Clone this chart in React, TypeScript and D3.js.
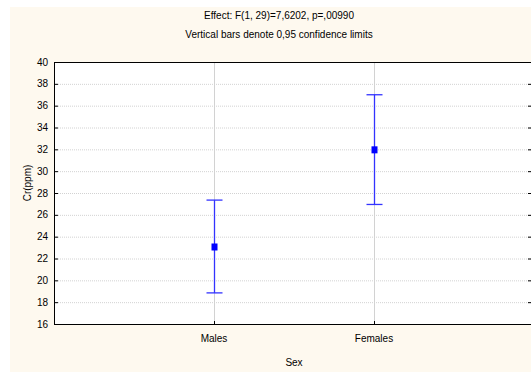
import React, { useEffect, useRef } from 'react'
import * as d3 from 'd3'

// values
const groups = ['Males', 'Females']
const means = [23.1, 32.0]
const lowerLimits = [18.85, 26.95]
const upperLimits = [27.35, 37.0]
const yTicks = [16, 18, 20, 22, 24, 26, 28, 30, 32, 34, 36, 38, 40]
const titleLines = ['Effect: F(1, 29)=7,6202, p=,00990', 'Vertical bars denote 0,95 confidence limits']

const W = 531
const H = 372
const FONT = "'Liberation Sans', Arial, sans-serif"

function App() {
    const node = useRef<SVGSVGElement | null>(null)

    useEffect(() => {
        const svg = d3.select(node.current)
        svg.selectAll('*').remove()

        const left = 54, right = 534, top = 62, bottom = 324

        // cream page
        svg.append('rect')
            .attr('x', 10).attr('y', 7)
            .attr('width', W - 10).attr('height', H - 7)
            .attr('fill', '#fef9ef')

        svg.append('rect')
            .attr('x', left).attr('y', top)
            .attr('width', right - left).attr('height', bottom - top)
            .attr('fill', '#fff')

        const y = d3.scaleLinear().domain([16, 40]).range([bottom, top])
        // categories sit at 1 and 2 on a 0..3 axis
        const x = d3.scaleLinear().domain([0, groups.length + 1]).range([left, right])

        const grid = svg.append('g')
        grid.selectAll('line.h').data(yTicks.slice(1, -1)).enter().append('line')
            .attr('x1', left).attr('x2', right)
            .attr('y1', d => y(d) + 0.5).attr('y2', d => y(d) + 0.5)
            .attr('stroke', '#d2d2d2')
            .attr('stroke-dasharray', '1,1')
        grid.selectAll('line.v').data(groups).enter().append('line')
            .attr('x1', (d, i) => x(i + 1) + 0.5).attr('x2', (d, i) => x(i + 1) + 0.5)
            .attr('y1', top).attr('y2', bottom)
            .attr('stroke', '#d2d2d2')

        // ticks inside the frame
        const ticks = svg.append('g').attr('stroke', '#000')
        ticks.selectAll('line.l').data(yTicks).enter().append('line')
            .attr('x1', left).attr('x2', left + 4)
            .attr('y1', d => y(d) + 0.5).attr('y2', d => y(d) + 0.5)
        ticks.selectAll('line.r').data(yTicks).enter().append('line')
            .attr('x1', W - 3).attr('x2', W)
            .attr('y1', d => y(d) + 0.5).attr('y2', d => y(d) + 0.5)
        ticks.selectAll('line.b').data(groups).enter().append('line')
            .attr('x1', (d, i) => x(i + 1) + 0.5).attr('x2', (d, i) => x(i + 1) + 0.5)
            .attr('y1', bottom - 3).attr('y2', bottom)

        svg.append('rect')
            .attr('x', left + 0.5).attr('y', top + 0.5)
            .attr('width', right - left).attr('height', bottom - top)
            .attr('fill', 'none')
            .attr('stroke', '#000')

        svg.append('g').selectAll('text').data(yTicks).enter().append('text')
            .attr('x', 48).attr('y', d => y(d))
            .attr('dy', '0.35em')
            .attr('text-anchor', 'end')
            .attr('font-family', FONT).attr('font-size', 10)
            .attr('fill', '#000')
            .text(d => d)

        svg.append('g').selectAll('text').data(groups).enter().append('text')
            .attr('x', (d, i) => x(i + 1)).attr('y', 342)
            .attr('text-anchor', 'middle')
            .attr('font-family', FONT).attr('font-size', 10)
            .text(d => d)

        svg.append('text')
            .attr('x', (left + right) / 2).attr('y', 366)
            .attr('text-anchor', 'middle')
            .attr('font-family', FONT).attr('font-size', 10)
            .text('Sex')

        svg.append('text')
            .attr('transform', 'translate(31,183) rotate(-90)')
            .attr('text-anchor', 'middle')
            .attr('font-family', FONT).attr('font-size', 10)
            .text('Cr(ppm)')

        svg.append('g').selectAll('text').data(titleLines).enter().append('text')
            .attr('x', 279).attr('y', (d, i) => 19 + i * 19)
            .attr('text-anchor', 'middle')
            .attr('font-family', FONT).attr('font-size', 10)
            .text(d => d)

        // error bars + means
        const bars = svg.append('g').attr('stroke', '#3333ff').attr('stroke-width', 1.3)
        groups.forEach((g, i) => {
            const cx = x(i + 1) + 0.5
            bars.append('line')
                .attr('x1', cx).attr('x2', cx)
                .attr('y1', y(upperLimits[i])).attr('y2', y(lowerLimits[i]))
            ;[upperLimits[i], lowerLimits[i]].forEach(v => {
                bars.append('line')
                    .attr('x1', cx - 8).attr('x2', cx + 8)
                    .attr('y1', y(v)).attr('y2', y(v))
            })
            svg.append('rect')
                .attr('x', cx - 3).attr('y', y(means[i]) - 3)
                .attr('width', 6).attr('height', 7)
                .attr('fill', '#0000ff')
        })
    }, [])

    return (
        <svg ref={node} width={W} height={H}
            style={{ position: 'absolute', left: 0, top: 0, background: '#fff' }} />
    )
}

export default App
